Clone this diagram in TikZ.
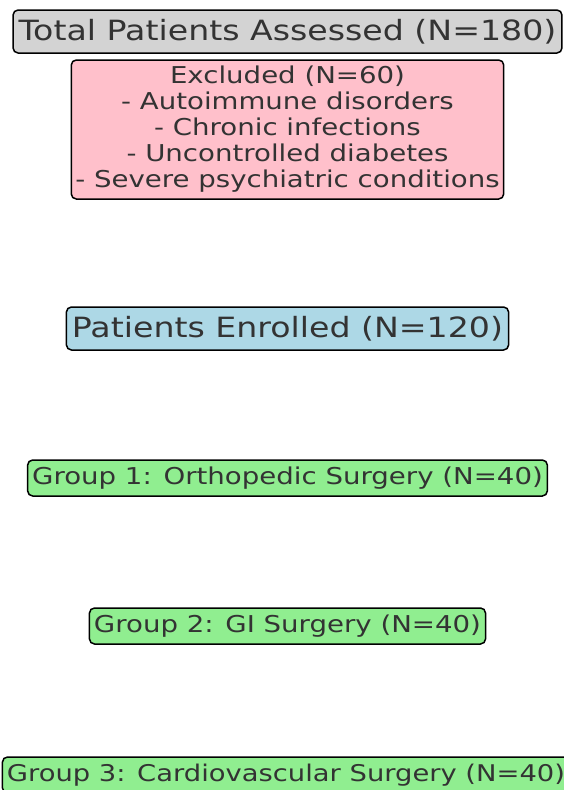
\documentclass[tikz,border=0pt]{standalone}
\usepackage{fontspec}
\setmainfont{DejaVu Sans}[FakeStretch=1.19]
\begin{document}
\begin{tikzpicture}[x=1pt, y=-1pt, inner ysep=0pt, outer sep=0pt,
  box/.style={draw=L, line width=1.5pt, rounded corners=5pt, text=T, align=center},
  bigbox/.style={box, font=\fontsize{27.9}{32}\selectfont, inner xsep=0.55em, minimum height=43pt},
  smallbox/.style={box, font=\fontsize{23.2}{26}\selectfont, inner xsep=0.45em, minimum height=36pt}]
\definecolor{L}{rgb}{0,0,0}
\definecolor{T}{rgb}{0.2,0.2,0.2}
\definecolor{Gy}{HTML}{D3D3D3}
\definecolor{Pk}{HTML}{FFC0CB}
\definecolor{Bl}{HTML}{ADD8E6}
\definecolor{Gn}{HTML}{90EE90}
\useasboundingbox (0,0) rectangle (564,790);
\node[bigbox, fill=Gy] (total) at (287.5,31.5) {Total Patients Assessed (N=180)};
\node[smallbox, fill=Pk, minimum height=139pt, inner xsep=0.4em] (excl) at (287.5,129.5) {Excluded (N=60)\\- Autoimmune disorders\\- Chronic infections\\- Uncontrolled diabetes\\- Severe psychiatric conditions};
\node[bigbox, fill=Bl] (enrol) at (287.5,328.5) {Patients Enrolled (N=120)};
\node[smallbox, fill=Gn] (grp1) at (287.5,478) {Group 1: Orthopedic Surgery (N=40)};
\node[smallbox, fill=Gn] (grp2) at (287.5,626) {Group 2: GI Surgery (N=40)};
\node[smallbox, fill=Gn, font=\fontsize{23}{26}\selectfont] (grp3) at (286,775) {Group 3: Cardiovascular Surgery (N=40)};
\end{tikzpicture}
\end{document}
